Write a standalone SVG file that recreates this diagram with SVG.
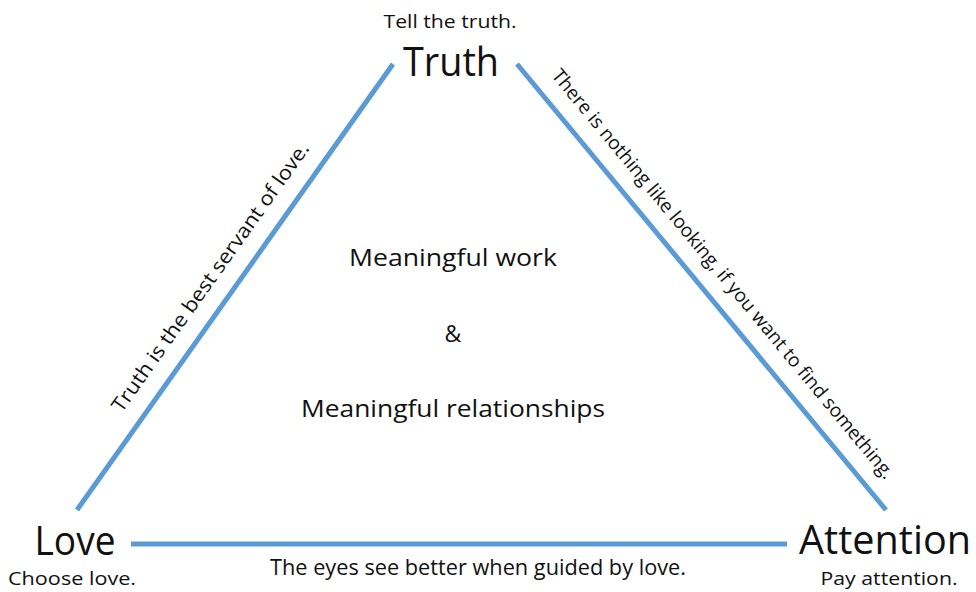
<svg xmlns="http://www.w3.org/2000/svg" width="976" height="592" viewBox="0 0 976 592">
<style>
text{font-family:"Open Sans","Noto Sans","DejaVu Sans",sans-serif;fill:#111;}
.big{font-size:40px;text-anchor:middle;}
.sub{font-size:18px;text-anchor:middle;}
.mid{font-size:23px;text-anchor:middle;}
.edge{font-size:20px;text-anchor:middle;}
.conn line{stroke:#5b9bd5;stroke-width:5;}
</style>
<rect width="976" height="592" fill="#fff"/>
<g id="connectors" class="conn">
<line x1="77" y1="510" x2="393" y2="64"/>
<line x1="517" y1="64" x2="886" y2="510"/>
<line x1="131" y1="544" x2="787" y2="544"/>
</g>
<g id="truth">
<text class="sub" x="450" y="28" textLength="133" lengthAdjust="spacingAndGlyphs">Tell the truth.</text>
<text class="big" x="451" y="76" textLength="96" lengthAdjust="spacingAndGlyphs">Truth</text>
</g>
<g id="love">
<text class="big" x="75" y="555" textLength="81" lengthAdjust="spacingAndGlyphs">Love</text>
<text class="sub" x="72" y="585" textLength="128" lengthAdjust="spacingAndGlyphs">Choose love.</text>
</g>
<g id="attention">
<text class="big" x="885" y="554" textLength="172" lengthAdjust="spacingAndGlyphs">Attention</text>
<text class="sub" x="889" y="585" textLength="137" lengthAdjust="spacingAndGlyphs">Pay attention.</text>
</g>
<g id="center">
<text class="mid" x="453" y="266" textLength="208" lengthAdjust="spacingAndGlyphs">Meaningful work</text>
<text class="mid" x="453" y="342">&amp;</text>
<text class="mid" x="453" y="417" textLength="304" lengthAdjust="spacingAndGlyphs">Meaningful relationships</text>
</g>
<g id="edge-labels">
<text class="edge" transform="translate(216,281) rotate(-54.6)" textLength="325" lengthAdjust="spacingAndGlyphs">Truth is the best servant of love.</text>
<text class="edge" transform="translate(718,278) rotate(50.4)" textLength="525" lengthAdjust="spacingAndGlyphs" style="font-size:19px">There is nothing like looking, if you want to find something.</text>
<text class="sub" x="478" y="575" textLength="416" lengthAdjust="spacingAndGlyphs" style="font-size:21px">The eyes see better when guided by love.</text>
</g>
</svg>
